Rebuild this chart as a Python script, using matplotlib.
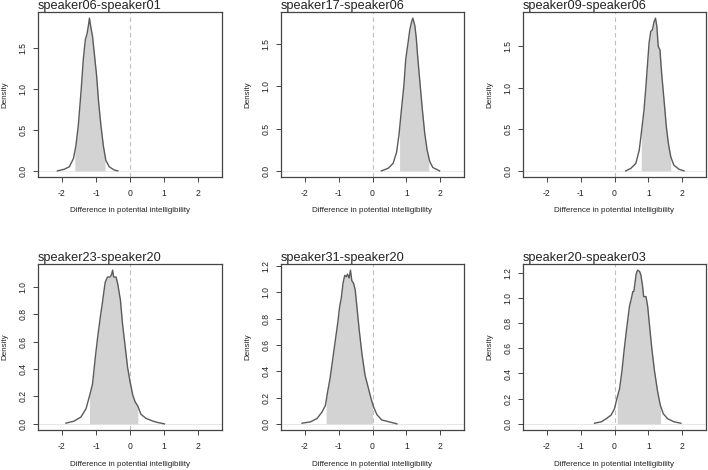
import matplotlib
matplotlib.use("Agg")
import matplotlib.pyplot as plt
from matplotlib.ticker import FormatStrFormatter
import numpy as np

plt.rcParams["font.family"] = ["Liberation Sans", "DejaVu Sans"]
plt.rcParams["axes.unicode_minus"] = False

# posterior densities of the pairwise differences
titles = [
    "speaker06-speaker01", "speaker17-speaker06", "speaker09-speaker06",
    "speaker23-speaker20", "speaker31-speaker20", "speaker20-speaker03",
]

x1 = [-2.13, -1.93, -1.78, -1.66, -1.59, -1.52, -1.44, -1.37, -1.31, -1.26, -1.22, -1.19,
      -1.15, -1.10, -1.05, -0.98, -0.92, -0.85, -0.78, -0.71, -0.61, -0.46, -0.36]
d1 = [0.0, 0.02, 0.05, 0.15, 0.30, 0.54, 0.95, 1.36, 1.60, 1.67, 1.77, 1.86,
      1.75, 1.64, 1.44, 1.16, 0.83, 0.54, 0.30, 0.13, 0.05, 0.01, 0.0]

x2 = [0.26, 0.46, 0.61, 0.71, 0.78, 0.85, 0.93, 0.98, 1.05, 1.10, 1.15, 1.19,
      1.25, 1.29, 1.34, 1.41, 1.47, 1.54, 1.61, 1.69, 1.78, 1.98]
d2 = [0.0, 0.03, 0.09, 0.22, 0.42, 0.71, 1.03, 1.32, 1.52, 1.67, 1.76, 1.81,
      1.72, 1.58, 1.32, 1.00, 0.73, 0.45, 0.25, 0.11, 0.04, 0.0]

x3 = [0.33, 0.48, 0.63, 0.73, 0.79, 0.87, 0.92, 0.97, 1.02, 1.07, 1.12, 1.17,
      1.21, 1.25, 1.29, 1.34, 1.39, 1.46, 1.53, 1.59, 1.66, 1.75, 1.90, 2.05]
d3 = [0.0, 0.03, 0.09, 0.25, 0.45, 0.73, 0.98, 1.26, 1.54, 1.68, 1.70, 1.80,
      1.84, 1.74, 1.50, 1.46, 1.18, 0.86, 0.53, 0.33, 0.17, 0.07, 0.02, 0.0]

x4 = [-1.88, -1.64, -1.44, -1.29, -1.17, -1.10, -1.02, -0.95, -0.87, -0.80, -0.73, -0.66,
      -0.58, -0.54, -0.51, -0.48, -0.41, -0.36, -0.28, -0.22, -0.14, -0.07, 0.0, 0.08,
      0.15, 0.23, 0.32, 0.47, 0.67, 0.81, 1.01]
d4 = [0.005, 0.02, 0.05, 0.11, 0.22, 0.29, 0.48, 0.63, 0.78, 0.90, 1.03, 1.07,
      1.07, 1.09, 1.12, 1.07, 1.07, 1.02, 0.90, 0.73, 0.56, 0.41, 0.31, 0.21,
      0.16, 0.13, 0.07, 0.04, 0.02, 0.01, 0.0]

x5 = [-2.08, -1.83, -1.64, -1.49, -1.39, -1.32, -1.25, -1.18, -1.10, -1.02, -0.97, -0.92,
      -0.87, -0.82, -0.77, -0.74, -0.69, -0.65, -0.61, -0.56, -0.51, -0.46, -0.39, -0.31,
      -0.22, -0.12, -0.04, 0.03, 0.13, 0.27, 0.42, 0.57, 0.72]
d5 = [0.005, 0.015, 0.04, 0.09, 0.14, 0.25, 0.35, 0.48, 0.63, 0.78, 0.89, 0.96,
      1.07, 1.13, 1.12, 1.14, 1.11, 1.17, 1.09, 1.07, 1.02, 0.89, 0.71, 0.53,
      0.37, 0.27, 0.19, 0.13, 0.07, 0.03, 0.02, 0.01, 0.0]

x6 = [-0.59, -0.39, -0.25, -0.10, 0.0, 0.07, 0.15, 0.22, 0.29, 0.36, 0.44, 0.51,
      0.54, 0.57, 0.60, 0.64, 0.68, 0.74, 0.78, 0.83, 0.86, 0.93, 0.98, 1.03,
      1.10, 1.18, 1.27, 1.35, 1.44, 1.57, 1.76, 1.96]
d6 = [0.005, 0.016, 0.04, 0.07, 0.12, 0.20, 0.28, 0.42, 0.60, 0.76, 0.93, 1.01,
      1.05, 1.05, 1.11, 1.19, 1.22, 1.21, 1.18, 1.09, 1.01, 1.01, 0.93, 0.79,
      0.60, 0.42, 0.26, 0.15, 0.08, 0.04, 0.016, 0.005]

# 95% interval bounds (shaded region)
ci_lo = [-1.62, 0.80, 0.79, -1.19, -1.37, 0.08]
ci_hi = [-0.73, 1.66, 1.66, 0.23, 0.0, 1.36]

xs = [x1, x2, x3, x4, x5, x6]
ds = [d1, d2, d3, d4, d5, d6]
yticks = [
    [0.0, 0.5, 1.0, 1.5], [0.0, 0.5, 1.0, 1.5], [0.0, 0.5, 1.0, 1.5],
    [0.0, 0.2, 0.4, 0.6, 0.8, 1.0], [0.0, 0.2, 0.4, 0.6, 0.8, 1.0, 1.2],
    [0.0, 0.2, 0.4, 0.6, 0.8, 1.0, 1.2],
]

W, H = 708, 470
fig = plt.figure(figsize=(W / 100, H / 100), dpi=100)

# panel boxes in pixels: left, top, right, bottom
lefts = [38, 281, 523]
rights = [222, 464, 706]
tops = [12, 264]
bottoms = [177, 430]

txt = "#222222"
fs = 5.8

for i in range(6):
    r, c = divmod(i, 3)
    l, rt = lefts[c], rights[c]
    t, b = tops[r], bottoms[r]
    ax = fig.add_axes([l / W, 1 - b / H, (rt - l) / W, (b - t) / H])
    x = np.array(xs[i])
    d = np.array(ds[i])

    ax.axhline(0, color="#e4e4e4", lw=0.6, zorder=1)
    ax.axvline(0, color="#bdbdbd", lw=0.8, ls=(0, (4, 3)), zorder=1)

    lo, hi = ci_lo[i], ci_hi[i]
    inside = (x > lo) & (x < hi)
    px = np.concatenate([[lo], x[inside], [hi]])
    py = np.concatenate([[np.interp(lo, x, d)], d[inside], [np.interp(hi, x, d)]])
    ax.fill_between(px, 0, py, color="#d3d3d3", lw=0, zorder=2)
    ax.plot(x, d, color="#5a5a5a", lw=1.0, zorder=3)

    ymax = d.max()
    ax.set_xlim(-2.7, 2.7)
    ax.set_ylim(-0.04 * ymax, 1.04 * ymax)
    ax.set_xticks([-2, -1, 0, 1, 2])
    ax.set_yticks(yticks[i])
    ax.yaxis.set_major_formatter(FormatStrFormatter("%.1f"))
    ax.tick_params(axis="both", direction="out", length=3.4, width=0.7,
                   color="#444444", labelsize=6.2, labelcolor=txt)
    ax.tick_params(axis="x", pad=5.2)
    ax.tick_params(axis="y", pad=4)
    for lab in ax.get_yticklabels():
        lab.set_rotation(90)
        lab.set_va("center")
    for s in ax.spines.values():
        s.set_color("#444444")
        s.set_linewidth(0.9)

    ph = b - t
    pw = rt - l
    ax.text(0, 1 + 2.8 / ph, titles[i], transform=ax.transAxes, ha="left",
            va="baseline", fontsize=9.2, color=txt)
    ax.text(0.5, -34 / ph, "Difference in potential intelligibility",
            transform=ax.transAxes, ha="center", va="center", fontsize=fs, color=txt)
    ax.text(-33 / pw, 0.5, "Density", transform=ax.transAxes, rotation=90,
            ha="center", va="center", fontsize=fs, color=txt)

fig.savefig("out.png", dpi=100)
